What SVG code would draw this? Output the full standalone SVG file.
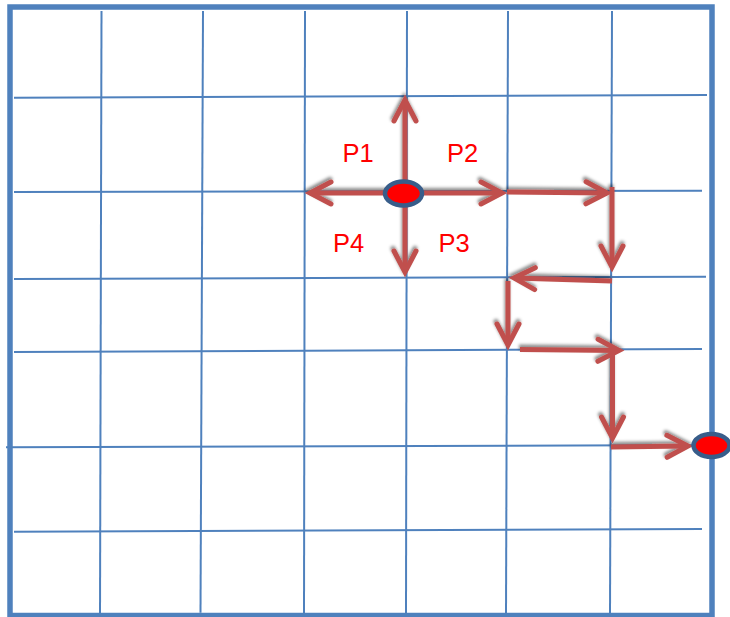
<svg xmlns="http://www.w3.org/2000/svg" width="730" height="617" viewBox="0 0 730 617">
<style>
.grid line{stroke:#4f81bd;stroke-width:2;fill:none}
.border{stroke:#4f81bd;stroke-width:5.5;fill:none}
.arrow{stroke:#c0504d;stroke-width:5;fill:none;marker-end:url(#head)}
.node{fill:#ff0000;stroke:#385d8a;stroke-width:4.5}
.lbl{font-family:"Liberation Sans",Arial,sans-serif;font-size:25.5px;fill:#ff0000;text-anchor:middle}
</style>
<defs>
<marker id="head" markerUnits="userSpaceOnUse" viewBox="0 0 34 30" markerWidth="34" markerHeight="30" refX="26" refY="15" orient="auto" overflow="visible">
<path d="M5,4 L26,15 L5,26" fill="none" stroke="#c0504d" stroke-width="5" stroke-linecap="round" stroke-linejoin="miter"/>
</marker>
<filter id="shadow" x="-20%" y="-20%" width="140%" height="140%">
<feDropShadow dx="-1" dy="-2.5" stdDeviation="1.5" flood-color="#000" flood-opacity="0.45"/>
</filter>
</defs>
<rect width="730" height="617" fill="#ffffff"/>
<g id="grid" class="grid">
<line x1="14" y1="97.7" x2="707" y2="95"/>
<line x1="14" y1="192" x2="702" y2="190.7"/>
<line x1="14" y1="279" x2="706" y2="276.7"/>
<line x1="14" y1="352" x2="702" y2="349"/>
<line x1="6" y1="447.3" x2="712" y2="445"/>
<line x1="14" y1="531.7" x2="702" y2="529"/>
<line x1="101.5" y1="11" x2="100" y2="615"/>
<line x1="203" y1="11" x2="200.5" y2="612.7"/>
<line x1="305" y1="11" x2="304" y2="615"/>
<line x1="407" y1="11" x2="406" y2="615"/>
<line x1="508" y1="11" x2="506" y2="615"/>
<line x1="612" y1="11" x2="610" y2="615"/>
</g>
<rect class="border" x="10" y="7" width="702" height="608.5"/>
<g id="connectors" filter="url(#shadow)">
<line class="arrow" x1="405" y1="193" x2="405" y2="100"/>
<line class="arrow" x1="404" y1="193" x2="310" y2="193"/>
<line class="arrow" x1="404" y1="193" x2="502" y2="193"/>
<line class="arrow" x1="405" y1="193" x2="405" y2="272"/>
<line class="arrow" x1="507" y1="192" x2="607" y2="193"/>
<line class="arrow" x1="612" y1="187" x2="612" y2="267"/>
<line class="arrow" x1="612" y1="281" x2="514" y2="278"/>
<line class="arrow" x1="508" y1="281" x2="508" y2="345"/>
<line class="arrow" x1="520" y1="349.5" x2="619" y2="350.5"/>
<line class="arrow" x1="612.5" y1="346" x2="612.5" y2="438"/>
<line class="arrow" x1="611" y1="447" x2="688" y2="446"/>
</g>
<g id="start-node"><ellipse class="node" cx="403.5" cy="193.5" rx="18.5" ry="12"/></g>
<g id="end-node"><ellipse class="node" cx="711.5" cy="445.5" rx="18" ry="11.5"/></g>
<g id="labels">
<text class="lbl" x="358" y="161.7">P1</text>
<text class="lbl" x="462.5" y="161.7">P2</text>
<text class="lbl" x="454.2" y="252.3">P3</text>
<text class="lbl" x="348.7" y="252.3">P4</text>
</g>
</svg>
